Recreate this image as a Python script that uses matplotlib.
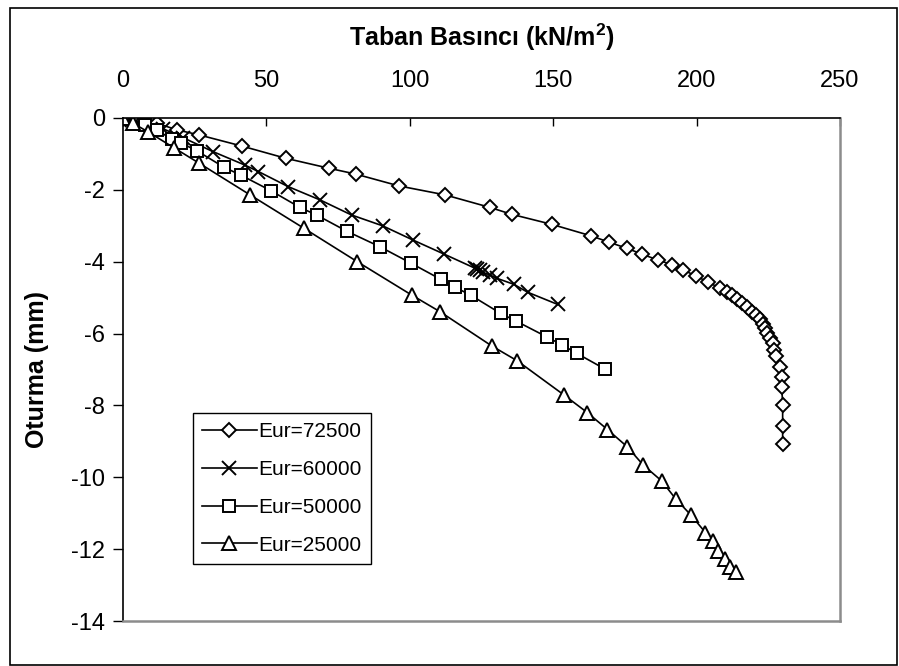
import matplotlib
matplotlib.use("Agg")
import matplotlib.pyplot as plt
from matplotlib.patches import Rectangle

plt.rcParams['font.family'] = ['Liberation Sans', 'DejaVu Sans']

# Eur=72500 (diamonds)
p_72500 = [0, 3, 7, 12, 18.8, 26.5, 41.4, 56.7, 71.9, 81.1, 96.2, 112.3, 128.0, 135.5,
           149.5, 163.2, 169.6, 175.8, 181.0, 186.4, 191.4, 195.4, 199.8, 204.1, 208.2,
           210.5, 212.2, 214.2, 216.0, 217.7, 219.2, 220.7, 222.1, 223.3, 223.9, 224.7,
           225.6, 226.5, 227.0, 227.7, 229.1, 229.7, 229.7, 230.0, 230.0, 230.0]
s_72500 = [0, -0.03, -0.08, -0.15, -0.33, -0.47, -0.78, -1.12, -1.40, -1.56, -1.89, -2.14,
           -2.49, -2.68, -2.96, -3.28, -3.46, -3.63, -3.79, -3.95, -4.08, -4.23, -4.40,
           -4.57, -4.74, -4.83, -4.93, -5.05, -5.16, -5.27, -5.39, -5.48, -5.60, -5.73,
           -5.85, -5.99, -6.13, -6.27, -6.46, -6.62, -6.92, -7.20, -7.48, -7.99, -8.57, -9.08]

# Eur=60000 (crosses)
p_60000 = [0, 3, 8, 14, 21, 31.5, 42.5, 47.2, 57.6, 68.7, 79.7, 90.5, 101.2, 112.0,
           122.7, 123.5, 124.5, 125.6, 128.0, 130.3, 136.3, 141.1, 151.6]
s_60000 = [0, -0.05, -0.15, -0.30, -0.55, -0.94, -1.31, -1.49, -1.91, -2.28, -2.70, -3.00,
           -3.40, -3.79, -4.18, -4.21, -4.24, -4.30, -4.37, -4.46, -4.63, -4.85, -5.19]

# Eur=50000 (squares)
p_50000 = [0, 7.7, 11.7, 17.0, 20.1, 25.7, 35.2, 41.1, 51.5, 61.7, 67.5, 78.0, 89.5,
           100.4, 110.8, 115.8, 121.2, 131.7, 137.0, 147.7, 153.2, 158.2, 168.1]
s_50000 = [0, -0.19, -0.33, -0.59, -0.69, -0.91, -1.37, -1.59, -2.02, -2.49, -2.70, -3.15,
           -3.58, -4.04, -4.49, -4.71, -4.93, -5.44, -5.65, -6.09, -6.32, -6.55, -6.99]

# Eur=25000 (triangles)
p_25000 = [0, 3.6, 8.6, 17.8, 26.6, 44.3, 63.1, 81.7, 100.7, 110.5, 128.5, 137.5, 153.6,
           161.9, 168.9, 175.8, 181.4, 187.8, 192.7, 198.0, 203.1, 205.7, 207.5, 209.9,
           211.6, 213.6]
s_25000 = [0, -0.15, -0.38, -0.83, -1.26, -2.14, -3.07, -4.00, -4.93, -5.39, -6.34, -6.76,
           -7.70, -8.20, -8.67, -9.15, -9.66, -10.10, -10.60, -11.05, -11.54, -11.77, -12.05,
           -12.27, -12.51, -12.65]

x_ticks = [0, 50, 100, 150, 200, 250]
y_ticks = [0, -2, -4, -6, -8, -10, -12, -14]

fig = plt.figure(figsize=(8.99, 6.66), dpi=100)
ax = fig.add_axes([123 / 899, 1 - 621 / 666, 717 / 899, 503 / 666])

style = dict(color='black', linewidth=1.2, markerfacecolor='white',
             markeredgecolor='black', markeredgewidth=1.4)
ax.plot(p_72500, s_72500, marker='D', markersize=7.5, label='Eur=72500', **style)
ax.plot(p_60000, s_60000, marker='x', markersize=10, label='Eur=60000', **style)
ax.plot(p_50000, s_50000, marker='s', markersize=8, label='Eur=50000', **style)
ax.plot(p_25000, s_25000, marker='^', markersize=9.5, label='Eur=25000', **style)

ax.set_xlim(0, 250)
ax.set_ylim(-14, 0)
ax.set_xticks(x_ticks)
ax.set_yticks(y_ticks)
ax.set_yticklabels([str(v) for v in y_ticks])
ax.xaxis.tick_top()
ax.xaxis.set_label_position('top')
ax.tick_params(axis='x', direction='in', length=6, width=1, labelsize=17, pad=19)
ax.tick_params(axis='y', direction='out', length=7, width=1, labelsize=17, pad=6)

for side in ['top', 'left']:
    ax.spines[side].set_color('black')
    ax.spines[side].set_linewidth(1.2)
for side in ['right', 'bottom']:
    ax.spines[side].set_color('#8c8c8c')
    ax.spines[side].set_linewidth(1.8)

ax.set_xlabel('Taban Basıncı (kN/m$^\\mathregular{2}$)', fontsize=18, fontweight='bold', labelpad=17)
ax.set_ylabel('Oturma (mm)', fontsize=18, fontweight='bold', labelpad=16)

leg = ax.legend(loc='upper left', bbox_to_anchor=(0.0976, 0.4135), borderaxespad=0,
                fontsize=15, fancybox=False, framealpha=1, edgecolor='black',
                handlelength=2.6, labelspacing=0.9, borderpad=0.45, handletextpad=0.1)
leg.get_frame().set_linewidth(1.0)

fig.patches.append(Rectangle((9.5 / 899, 1.5 / 666), 887 / 899, 657 / 666,
                             transform=fig.transFigure, fill=False,
                             edgecolor='black', linewidth=1.2))

fig.savefig('out.png', dpi=100)
